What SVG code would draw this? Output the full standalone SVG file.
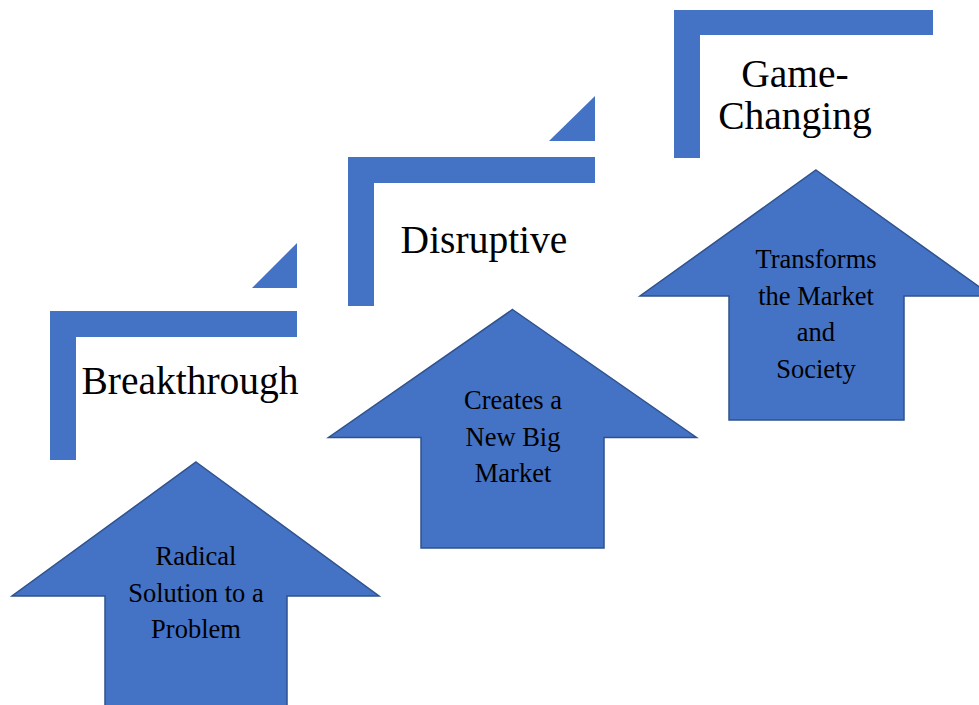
<svg xmlns="http://www.w3.org/2000/svg" width="979" height="705" viewBox="0 0 979 705">
  <style>
    .bar { fill: #4472C4; stroke: none; }
    .arrow { fill: #4472C4; stroke: #2F528F; stroke-width: 1.5; stroke-linejoin: miter; }
    text { font-family: 'Liberation Serif', 'DejaVu Serif', serif; fill: #000; text-anchor: middle; }
    .head { font-size: 39.5px; }
    .body { font-size: 26.5px; }
  </style>
  <rect width="979" height="705" fill="#ffffff"/>

  <g id="breakthrough-label">
    <polygon class="bar" points="50,311 297,311 297,337 76,337 76,460 50,460"/>
    <polygon class="bar" points="252,288 297,243 297,288"/>
    <text class="head" x="190" y="394" font-family="Liberation Serif">Breakthrough</text>
  </g>

  <g id="disruptive-label">
    <polygon class="bar" points="348,157 595,157 595,183 374,183 374,306 348,306"/>
    <polygon class="bar" points="549,141 595,96 595,141"/>
    <text class="head" x="484" y="253">Disruptive</text>
  </g>

  <g id="gamechanging-label">
    <polygon class="bar" points="674,10 933,10 933,35 700,35 700,158 674,158"/>
    <text class="head" x="795" y="87">Game-</text>
    <text class="head" x="795" y="129">Changing</text>
  </g>

  <g id="arrow-radical">
    <polygon class="arrow" points="196,462 379,596 287,596 287,707 105,707 105,596 12,596"/>
    <text class="body" x="196" y="565">Radical</text>
    <text class="body" x="196" y="601.5">Solution to a</text>
    <text class="body" x="196" y="637.5">Problem</text>
  </g>

  <g id="arrow-creates">
    <polygon class="arrow" points="512.5,309.5 696.5,437.5 604,437.5 604,548 421,548 421,437.5 328.5,437.5"/>
    <text class="body" x="513" y="409">Creates a</text>
    <text class="body" x="513" y="445.5">New Big</text>
    <text class="body" x="513" y="481.5">Market</text>
  </g>

  <g id="arrow-transforms">
    <polygon class="arrow" points="816,170 992,296 904,296 904,420 729,420 729,296 640,296"/>
    <text class="body" x="816" y="268">Transforms</text>
    <text class="body" x="816" y="304.5">the Market</text>
    <text class="body" x="816" y="341">and</text>
    <text class="body" x="816" y="377.5">Society</text>
  </g>

  <g id="connectors"/>
</svg>
